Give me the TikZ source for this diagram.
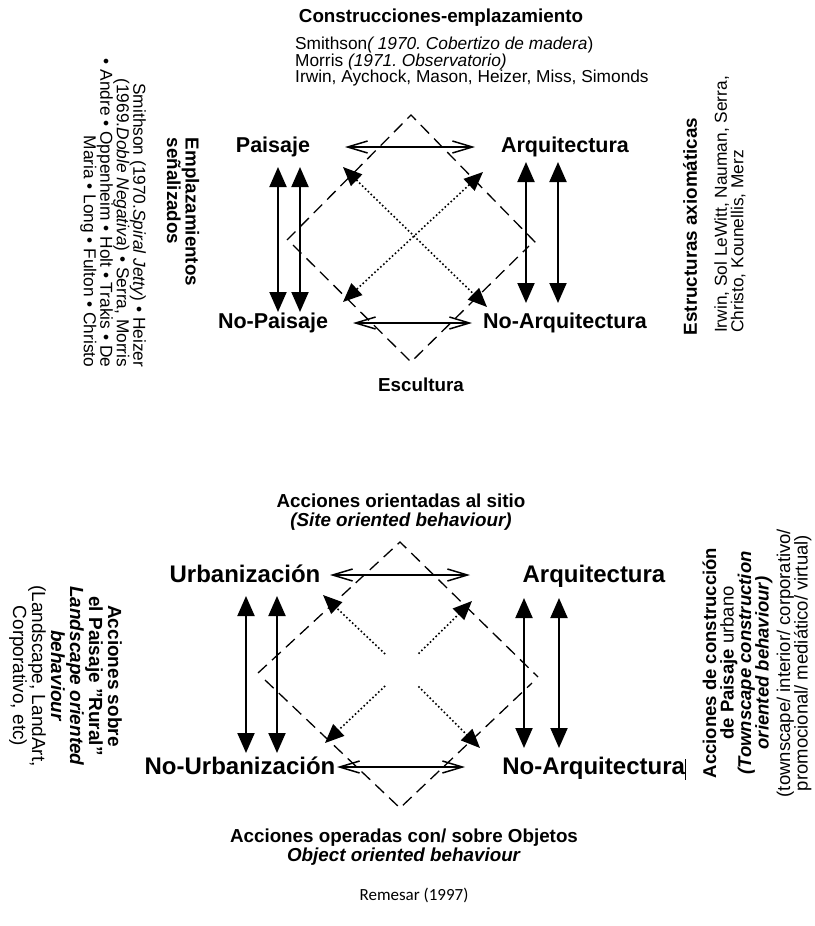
\documentclass[tikz,border=0pt]{standalone}
\usepackage{fontspec}
\setmainfont{Liberation Sans}
\newfontfamily\calibrifont{Carlito}
\usepackage{tikz}
\usetikzlibrary{positioning,arrows.meta}
\frenchspacing

\tikzset{
  corner/.style={font=\fontsize{21.5}{24}\selectfont\bfseries, inner sep=0pt, text height=16pt, text depth=4.3pt},
  bigcorner/.style={font=\fontsize{24}{26}\selectfont\bfseries, inner sep=0pt, text height=18pt, text depth=4.8pt},
  heading/.style={font=\fontsize{18.8}{19}\selectfont\bfseries, inner sep=0pt},
  artists/.style={font=\fontsize{17.3}{16.5}\selectfont, inner sep=0pt},
  pairarrow/.style={line width=2pt, {Triangle[length=20pt,width=17pt]}-{Triangle[length=20pt,width=17pt]}},
  openarrow/.style={line width=1.5pt, {Straight Barb[length=20pt,width=12pt]}-{Straight Barb[length=20pt,width=12pt]}},
  crossarrow/.style={line width=1.6pt, dash pattern=on 1.6pt off 2.4pt},
  frame/.style={line width=1.3pt, dash pattern=on 12pt off 7pt},
}

\begin{document}
\begin{tikzpicture}[x=1pt,y=1pt,yscale=-1,xscale=1]
\useasboundingbox (0,0) rectangle (814,926);

% ---------- upper diagram ----------
% Text Node
\node[heading] (constr) at (441,18) {Construcciones-emplazamiento};
% Text Node
\node[artists, anchor=west, align=left] (constrnames) at (295,62) {Smithson\textit{( 1970. Cobertizo de madera})\\Morris \textit{(1971. Observatorio)}\\Irwin, Aychock, Mason, Heizer, Miss, Simonds};
% Text Node
\node[heading, rotate=-90, align=left, font=\fontsize{18.8}{16}\selectfont\bfseries] (empl) at (183,212) {Emplazamientos\\señalizados};
% Text Node
\node[artists, rotate=-90, align=right] (emplnames) at (113,213) {Smithson (1970.\textit{Spiral Jetty}) • Heizer\\(1969.\textit{Doble Negativa}) • Serra, Morris\\• Andre • Oppenheim • Holt • Trakis • De\\Maria • Long • Fulton • Christo};
% Text Node
\node[heading, rotate=90] (axiom) at (690,226.5) {Estructuras axiomáticas};
% Text Node
\node[artists, rotate=90, align=left] (axiomnames) at (730,204.5) {Irwin, Sol LeWitt, Nauman, Serra,\\Christo, Kounellis, Merz};

% Text Node
\node[corner] (paisaje) at (273,147) {Paisaje};
\node[corner] (arq) at (565,147) {Arquitectura};
\node[corner] (nopaisaje) at (273,323) {No-Paisaje};
\node[corner] (noarq) at (565,323) {No-Arquitectura};
\node[heading] (escultura) at (421,385) {Escultura};

%Shape: Diamond
\coordinate (tT) at (411,115);
\coordinate (tL1) at (287,240);
\coordinate (tR1) at (536,243);
\coordinate (tL2) at (293,245);
\coordinate (tB) at (411,362);
\coordinate (tR2) at (529,246);
\draw[frame] (tL1) -- (tT) -- (tR1);
\draw[frame] (tL2) -- (tB) -- (tR2);

%Straight Lines
\coordinate (ht1) at (345,147); \coordinate (ht2) at (475,147);
\coordinate (hb1) at (353,323); \coordinate (hb2) at (472,323);
\draw[openarrow] (ht1) -- (ht2);
\draw[openarrow] (hb1) -- (hb2);
\foreach \x/\a/\b in {278/167/312, 300/167/312, 526/162/303, 558/162/303}
  \draw[pairarrow] (\x,\a) coordinate (vt\x) -- (\x,\b) coordinate (vb\x);

% dotted cross
\coordinate (xa) at (343,167); \coordinate (xb) at (487,307);
\coordinate (xc) at (483,172); \coordinate (xd) at (343,302);
\draw[crossarrow, {Triangle[length=19pt,width=16pt]}-{Triangle[length=19pt,width=16pt]}] (xa) -- (xb);
\draw[crossarrow, {Triangle[length=19pt,width=16pt]}-{Triangle[length=19pt,width=16pt]}] (xc) -- (xd);

% ---------- lower diagram ----------
% Text Node
\node[heading, align=center] (sitio) at (401,512) {Acciones orientadas al sitio\\\textit{(Site oriented behaviour)}};
% Text Node
\node[heading, align=center] (objetos) at (404,847) {Acciones operadas con/ sobre Objetos\\\textit{Object oriented behaviour}};
% Text Node
\node[rotate=-90, align=center, inner sep=0pt, font=\fontsize{19}{19}\selectfont] (rural) at (65.5,676) {\textbf{Acciones sobre}\\\textbf{el Paisaje "Rural"}\\\textbf{\textit{Landscape oriented}}\\\textbf{\textit{behaviour}}\\(Landscape, LandArt,\\Corporativo, etc)};
% Text Node
\node[rotate=90, align=center, inner sep=0pt, font=\fontsize{18.5}{17.5}\selectfont] (urbano) at (757,663) {\textbf{Acciones de construcción}\\\textbf{de Paisaje} urbano\\\textbf{\textit{(Townscape construction}}\\\textbf{\textit{oriented behaviour)}}\\[4pt](townscape/ interior/ corporativo/\\promocional/ mediático/ virtual)};

% Text Node
\node[bigcorner] (urb) at (245,576) {Urbanización};
\node[bigcorner] (arq2) at (594,576) {Arquitectura};
\node[bigcorner] (nourb) at (240,768) {No-Urbanización};
\node[bigcorner] (noarq2) at (594,768) {No-Arquitectura\rule[-5pt]{0.8pt}{21pt}};

%Shape: Diamond
\coordinate (bT) at (400,542);
\coordinate (bL1) at (258,673);
\coordinate (bR1) at (538,677);
\coordinate (bL2) at (265,680);
\coordinate (bB) at (400,808);
\coordinate (bR2) at (532,683);
\draw[frame] (bL1) -- (bT) -- (bR1);
\draw[frame] (bL2) -- (bB) -- (bR2);

%Straight Lines
\coordinate (bt1) at (330,575); \coordinate (bt2) at (470,575);
\coordinate (bb1) at (337,767); \coordinate (bb2) at (465,767);
\draw[openarrow] (bt1) -- (bt2);
\draw[openarrow] (bb1) -- (bb2);
\foreach \x/\a/\b in {246/596/753, 277/596/753, 524/598/748, 559/598/748}
  \draw[pairarrow] (\x,\a) coordinate (wt\x) -- (\x,\b) coordinate (wb\x);

% dotted cross, open in the middle
\node[circle, minimum size=46pt, inner sep=0pt] (hole) at (402,670) {};
\coordinate (ya) at (323,595); \coordinate (yb) at (480,748);
\coordinate (yc) at (472,601); \coordinate (yd) at (325,743);
\foreach \t in {ya,yb,yc,yd}
  \draw[crossarrow, -{Triangle[length=19pt,width=16pt]}] (hole) -- (\t);

% Text Node
\node[font=\calibrifont\fontsize{17}{20}\selectfont, inner sep=0pt] (fuente) at (414,895) {Remesar (1997)};
\end{tikzpicture}
\end{document}
